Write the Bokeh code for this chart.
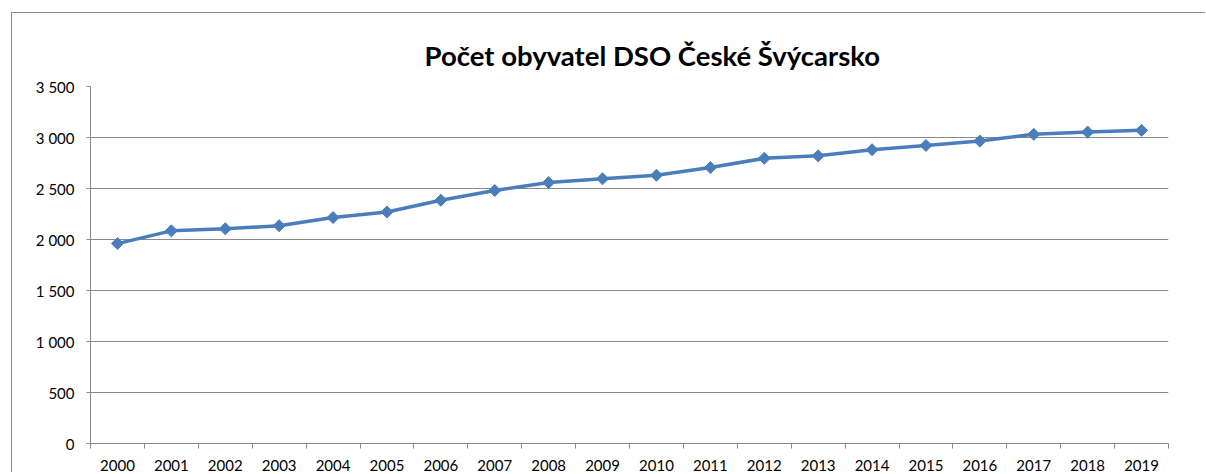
import numpy as np
from bokeh.plotting import figure
from bokeh.models import FixedTicker, ColumnDataSource
from bokeh.embed import file_html
from bokeh.resources import INLINE

# ---- data ----
years = ["2000", "2001", "2002", "2003", "2004", "2005", "2006", "2007", "2008", "2009",
         "2010", "2011", "2012", "2013", "2014", "2015", "2016", "2017", "2018", "2019"]
population = [1960, 2085, 2105, 2135, 2215, 2270, 2385, 2480, 2558, 2595,
              2630, 2705, 2796, 2820, 2880, 2922, 2965, 3031, 3053, 3070]
y_ticks = [0, 500, 1000, 1500, 2000, 2500, 3000, 3500]
y_tick_labels = ["0", "500", "1 000", "1 500", "2 000", "2 500", "3 000", "3 500"]
title_text = "Počet obyvatel DSO České Švýcarsko"

GRID = "#8a8a8a"
BLUE = "#4A7EBB"
FONT = "Lato"

n = len(years)
centers = [i + 0.5 for i in range(n)]
src = ColumnDataSource(dict(x=centers, y=population, year=years))

p = figure(width=1194, height=460, x_range=(0, n), y_range=(0, 3500),
           output_backend="svg", toolbar_location=None,
           min_border_left=78, min_border_right=38, min_border_top=73, min_border_bottom=29)
p.margin = (12, 0, 0, 11)
p.styles = {"border-top": f"1px solid {GRID}", "border-left": f"1px solid {GRID}"}
p.outline_line_color = None
p.background_fill_color = "white"
p.border_fill_color = "white"

# title
p.title.text = title_text
p.title.align = "left"
p.title.offset = 334
p.title.vertical_align = "bottom"
p.title.standoff = 30
p.title.text_line_height = 1.0
p.title.text_font = FONT
p.title.text_font_style = "bold"
p.title.text_font_size = "27.5px"
p.title.text_color = "black"

# y axis
p.yaxis.ticker = FixedTicker(ticks=y_ticks)
p.yaxis.major_label_overrides = {t: l for t, l in zip(y_ticks, y_tick_labels)}
p.yaxis.major_tick_out = 4
p.yaxis.major_tick_in = 0
p.yaxis.minor_tick_out = 0
p.yaxis.minor_tick_in = 0
p.yaxis.axis_line_color = GRID
p.yaxis.major_tick_line_color = GRID
p.yaxis.major_label_text_font = FONT
p.yaxis.major_label_text_font_size = "15px"
p.yaxis.major_label_text_color = "black"
p.yaxis.major_label_standoff = 12

# x axis: labels at centers, tick marks at category boundaries
p.xaxis.ticker = FixedTicker(ticks=centers, minor_ticks=list(range(n + 1)))
p.xaxis.major_label_overrides = {c: y for c, y in zip(centers, years)}
p.xaxis.major_tick_out = 0
p.xaxis.major_tick_in = 0
p.xaxis.minor_tick_out = 5
p.xaxis.minor_tick_in = 0
p.xaxis.minor_tick_line_color = GRID
p.xaxis.axis_line_color = GRID
p.xaxis.major_label_text_font = FONT
p.xaxis.major_label_text_font_size = "15px"
p.xaxis.major_label_text_color = "black"
p.xaxis.major_label_standoff = 11

p.xgrid.visible = False
p.ygrid.ticker = FixedTicker(ticks=y_ticks)
p.ygrid.grid_line_color = GRID
p.ygrid.grid_line_width = 1

p.line("x", "y", source=src, line_color=BLUE, line_width=3.5)
p.scatter("x", "y", source=src, marker="square", size=8.5, angle=np.pi / 4,
          fill_color=BLUE, line_color=BLUE)

open("out.html", "w").write(file_html(p, INLINE))
